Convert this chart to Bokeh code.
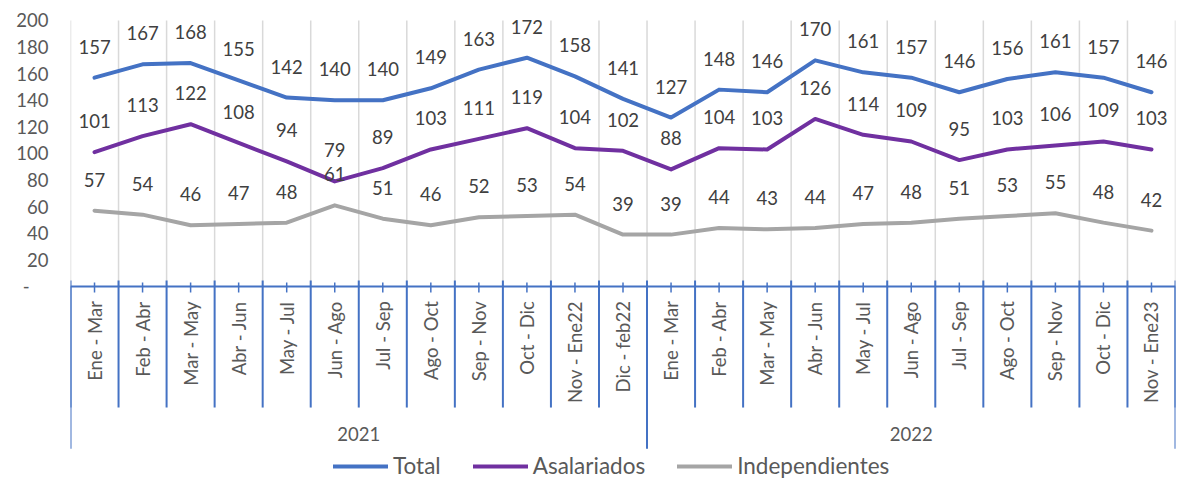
import numpy as np
from bokeh.plotting import figure
from bokeh.models import Range1d, FixedTicker, Legend, LegendItem
from bokeh.embed import file_html
from bokeh.resources import INLINE
from bokeh.core.properties import value

# ---------------- data ----------------
years = ["2021", "2022"]
year_counts = [12, 11]
categories = [
    "Ene - Mar", "Feb - Abr", "Mar - May", "Abr - Jun", "May - Jul", "Jun - Ago",
    "Jul - Sep", "Ago - Oct", "Sep - Nov", "Oct - Dic", "Nov - Ene22", "Dic - feb22",
    "Ene - Mar", "Feb - Abr", "Mar - May", "Abr - Jun", "May - Jul", "Jun - Ago",
    "Jul - Sep", "Ago - Oct", "Sep - Nov", "Oct - Dic", "Nov - Ene23",
]
total = [157, 167, 168, 155, 142, 140, 140, 149, 163, 172, 158, 141,
         127, 148, 146, 170, 161, 157, 146, 156, 161, 157, 146]
asalariados = [101, 113, 122, 108, 94, 79, 89, 103, 111, 119, 104, 102,
               88, 104, 103, 126, 114, 109, 95, 103, 106, 109, 103]
independientes = [57, 54, 46, 47, 48, 61, 51, 46, 52, 53, 54, 39,
                  39, 44, 43, 44, 47, 48, 51, 53, 55, 48, 42]
series_names = ["Total", "Asalariados", "Independientes"]
y_ticks = [0, 20, 40, 60, 80, 100, 120, 140, 160, 180, 200]

# ---------------- style ----------------
FONT = value("Lato")
FS = "18.5px"
C_TOTAL = "#4472C4"
C_ASAL = "#7030A0"
C_IND = "#A5A5A5"
AXIS_BLUE = "#4472C4"
TXT = "#595959"
LBL = "#404040"

n = len(categories)
xs = [i + 0.5 for i in range(n)]
bounds = list(range(n + 1))
group_bounds = [0]
for c in year_counts:
    group_bounds.append(group_bounds[-1] + c)
group_centers = [(group_bounds[i] + group_bounds[i + 1]) / 2 for i in range(len(years))]

p = figure(width=1177, height=479, output_backend="svg", toolbar_location=None,
           x_range=Range1d(0, n), y_range=Range1d(-145.1, 215.0),
           x_axis_location=None, min_border_left=70, min_border_right=2,
           min_border_top=0, min_border_bottom=0)
p.outline_line_color = None
p.xgrid.visible = False
p.ygrid.visible = False

# y axis
ya = p.yaxis[0]
ya.ticker = FixedTicker(ticks=y_ticks)
ya.major_label_overrides = {0: "-\u00a0\u00a0\u00a0\u00a0"}
ya.axis_line_color = None
ya.major_tick_line_color = None
ya.minor_tick_line_color = None
ya.major_tick_out = 0
ya.major_label_standoff = 22
ya.major_label_text_font = "Lato"
ya.major_label_text_font_size = FS
ya.major_label_text_color = TXT

# vertical gridlines
p.segment(x0=bounds, y0=[0] * len(bounds), x1=bounds, y1=[y_ticks[-1]] * len(bounds),
          line_color="#D9D9D9", line_width=1.5)

# category axis (drawn in data space)
p.segment(x0=[0], y0=[0], x1=[n], y1=[0], line_color=AXIS_BLUE, line_width=2)
p.segment(x0=bounds, y0=[4.5] * len(bounds), x1=bounds, y1=[-91] * len(bounds),
          line_color=AXIS_BLUE, line_width=2)
p.segment(x0=group_bounds, y0=[0] * len(group_bounds), x1=group_bounds,
          y1=[-122] * len(group_bounds), line_color=AXIS_BLUE, line_width=2)
p.segment(x0=xs, y0=[3] * n, x1=xs, y1=[-4.5] * n, line_color=AXIS_BLUE, line_width=1.5)

p.text(x=xs, y=[-11] * n, text=categories, angle=np.pi / 2, text_align="right",
       text_baseline="middle", text_font=FONT, text_font_size=FS, text_color=TXT)
p.text(x=group_centers, y=[-111] * len(years), text=years, text_align="center",
       text_baseline="middle", text_font=FONT, text_font_size=FS, text_color=TXT)

# series
renderers = []
for vals, col in [(total, C_TOTAL), (asalariados, C_ASAL), (independientes, C_IND)]:
    r = p.line(xs, vals, line_color=col, line_width=4, line_join="round", line_cap="round")
    renderers.append(r)
    p.text(x=xs, y=vals, text=[str(v) for v in vals], y_offset=-31, text_align="center",
           text_baseline="middle", text_font=FONT, text_font_size=FS, text_color=LBL)

legend = Legend(items=[LegendItem(label=nm, renderers=[r]) for nm, r in zip(series_names, renderers)],
                location=(263, 0), orientation="horizontal", padding=0, margin=0,
                spacing=32, label_standoff=5, glyph_width=55, glyph_height=22,
                label_text_font="Lato", label_text_font_size="22.5px",
                label_text_color=TXT, border_line_color=None, background_fill_alpha=0)
p.add_layout(legend)

open("out.html", "w").write(file_html(p, INLINE))
